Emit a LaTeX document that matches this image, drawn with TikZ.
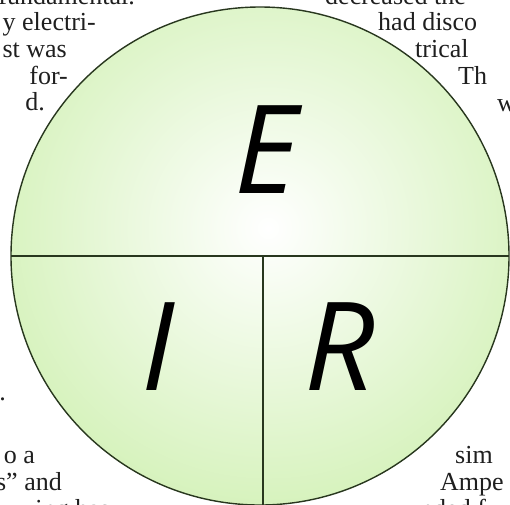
\documentclass[tikz,border=0pt]{standalone}
\usepackage{fontspec}
\setmainfont{Liberation Serif}
\newfontfamily\letterfont{Open Sans}
\definecolor{circgreen}{RGB}{182,232,136}
\definecolor{rimcol}{RGB}{40,55,30}
\begin{document}
\begin{tikzpicture}[x=1pt,y=-1pt,
  bodytext/.style={font=\fontsize{26}{29}\selectfont, inner sep=0pt, text=black!88},
  bigletter/.style={font=\letterfont\itshape\fontsize{123}{123}\selectfont, inner sep=0pt},
  rim/.style={draw=rimcol, line width=1.4pt}]
\useasboundingbox (0,0) rectangle (510,504);
\begin{scope}
\clip (0,0) rectangle (510,504);
\fill[white] (0,0) rectangle (510,504);
% circle with gradient
\begin{scope}
\clip (260,256) circle (249);
\shade[inner color=white, outer color=circgreen] (268,228) circle (500);
\end{scope}
\node[circle, minimum size=498pt, inner sep=0pt, rim] (disk) at (260,256) {};
% dividers
\coordinate (cl) at (11,256);
\coordinate (cr) at (509,256);
\coordinate (vt) at (263,256);
\coordinate (vb) at (263,506);
\draw[rim] (cl) -- (cr);
\draw[rim] (vt) -- (vb);
% letters
\node[bigletter, anchor=base] (E) at (266,193) {E};
\node[bigletter, anchor=base] (I) at (158,390) {I};
\node[bigletter, anchor=base] (R) at (340,390) {R};
% surrounding text, left
\node[bodytext, anchor=base east] (l1) at (135,4) {fundamental.};
\node[bodytext, anchor=base east] (l2) at (96,30) {y electri-};
\node[bodytext, anchor=base east] (l3) at (67,57) {st was};
\node[bodytext, anchor=base east] (l4) at (68,84) {for-};
\node[bodytext, anchor=base east] (l5) at (45,110) {d.};
\node[bodytext, anchor=base east] (l6) at (6,400) {.};
\node[bodytext, anchor=base east] (l7) at (35,463) {o a};
\node[bodytext, anchor=base east] (l8) at (62,490) {s” and};
\node[bodytext, anchor=base east] (l9) at (110,517) {ving has};
% surrounding text, right
\node[bodytext, anchor=base west] (r1) at (325,4) {decreased the};
\node[bodytext, anchor=base west] (r2) at (378,30) {had disco};
\node[bodytext, anchor=base west] (r3) at (415,57) {trical};
\node[bodytext, anchor=base west] (r4) at (458,84) {Th};
\node[bodytext, anchor=base west] (r5) at (497,111) {w};
\node[bodytext, anchor=base west] (r6) at (455,463) {sim};
\node[bodytext, anchor=base west] (r7) at (440,490) {Ampe};
\node[bodytext, anchor=base west] (r8) at (420,517) {nded f};
\end{scope}
\end{tikzpicture}
\end{document}
